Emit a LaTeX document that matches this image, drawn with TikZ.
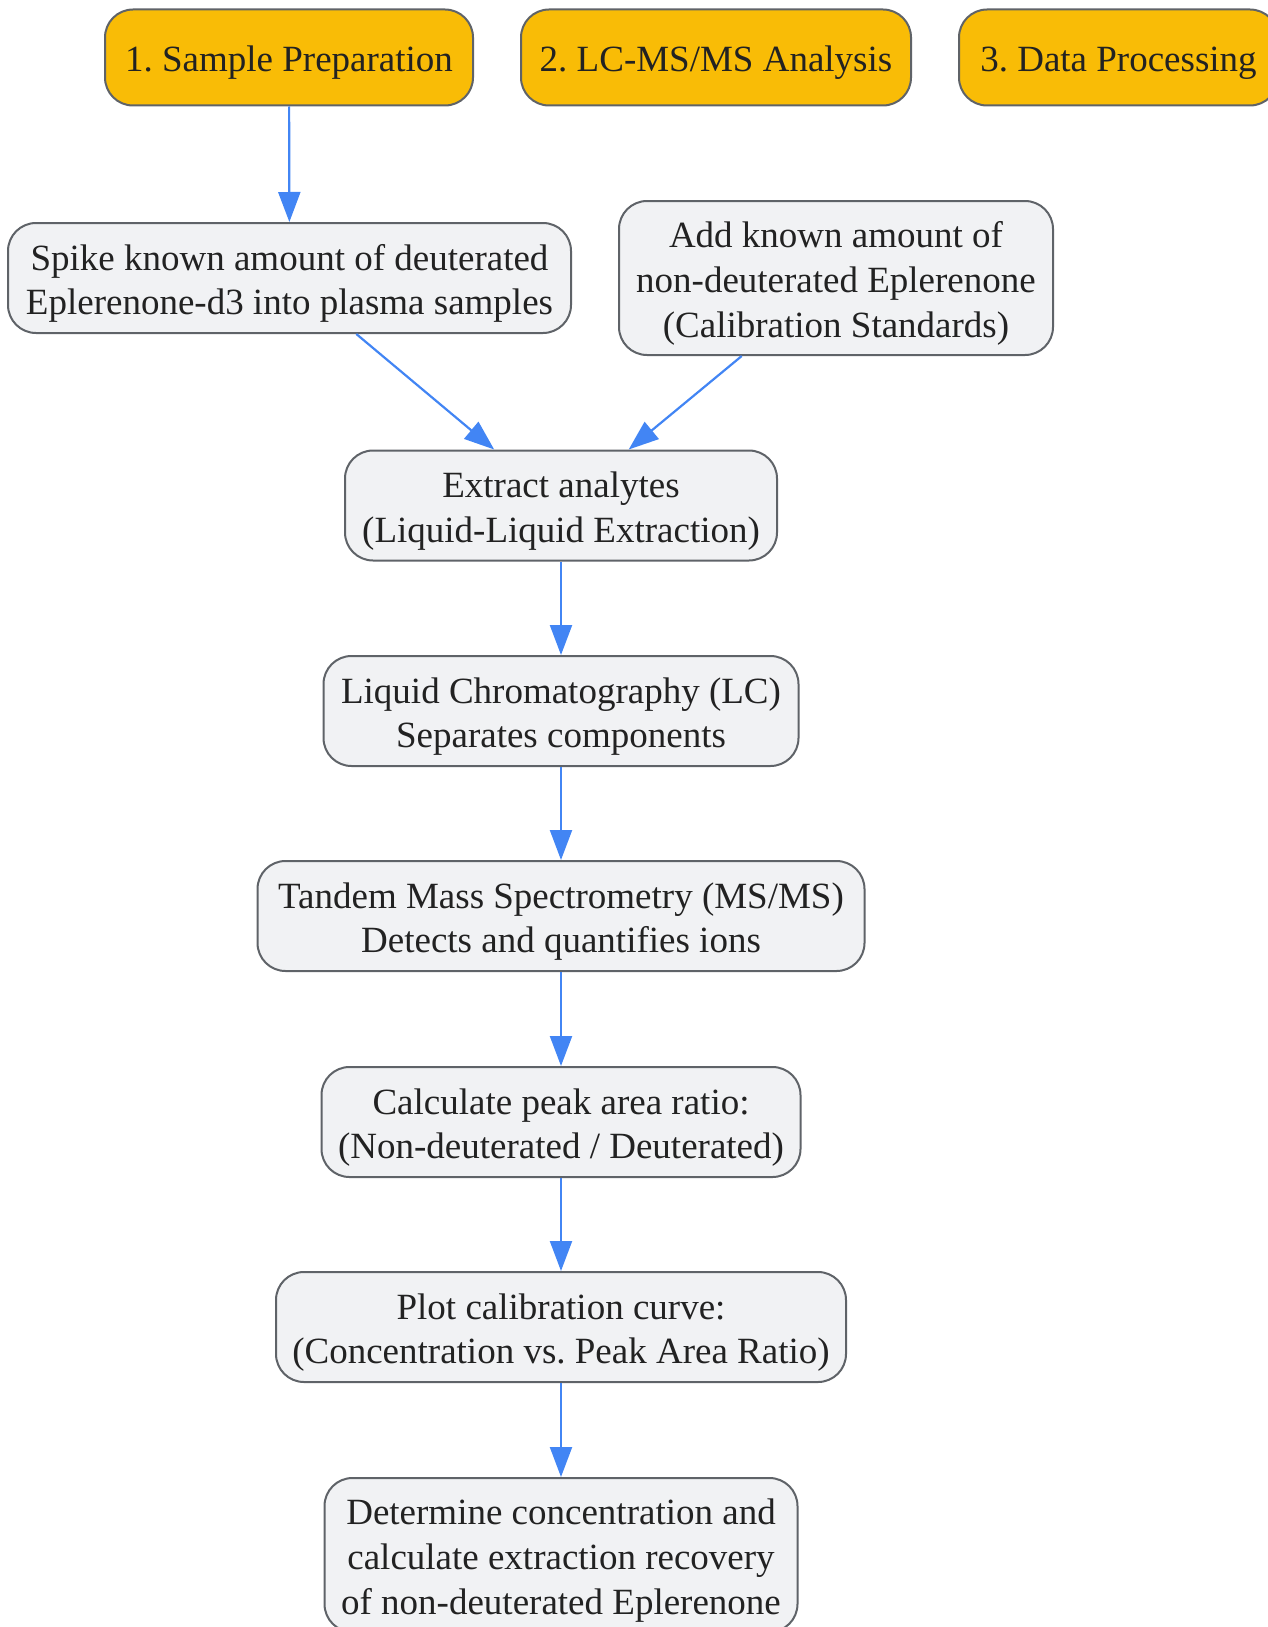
\documentclass[tikz,border=0pt]{standalone}
\usepackage{fontspec}
\setmainfont{Liberation Serif}
\usetikzlibrary{arrows.meta}
\definecolor{phasefill}{HTML}{F9BC06}
\definecolor{boxfill}{HTML}{F1F2F4}
\definecolor{boxline}{HTML}{5F6368}
\definecolor{flowblue}{HTML}{4285F4}
\definecolor{textdark}{HTML}{222222}
\newcommand{\linetop}{\rule{0pt}{19.5pt}}
\newcommand{\linebot}{\rule[-5pt]{0pt}{0pt}}
\frenchspacing
\begin{document}
\begin{tikzpicture}[x=0.5pt, y=-0.5pt,
    every node/.style={font=\fontsize{18.5}{22.3}\selectfont, text=textdark, align=center, inner sep=0pt},
    phase/.style={draw=boxline, line width=1pt, fill=phasefill, rounded corners=14pt, minimum height=48pt},
    stepbox/.style={draw=boxline, line width=1pt, fill=boxfill, rounded corners=14pt, minimum height=55pt},
    flow/.style={draw=flowblue, line width=1.1pt, -{Triangle[length=15pt, width=11pt]}}]
    \useasboundingbox (0,0) rectangle (1268,1627);
    % phases
    \node[phase, minimum width=184pt] (prep) at (289,57.5) {\linetop 1. Sample Preparation\linebot};
    \node[phase, minimum width=195pt] (lcms) at (716,57.5) {\linetop 2. LC-MS/MS Analysis\linebot};
    \node[phase, minimum width=159.5pt] (data) at (1118.5,57.5) {\linetop 3. Data Processing\linebot};
    % steps
    \node[stepbox, minimum width=281.5pt] (spike) at (289.5,278) {\linetop Spike known amount of deuterated\\Eplerenone-d3 into plasma samples\linebot};
    \node[stepbox, minimum width=217pt, minimum height=77pt] (add) at (836,278) {\linetop Add known amount of\\non-deuterated Eplerenone\\(Calibration Standards)\linebot};
    \node[stepbox, minimum width=216pt] (extract) at (561,505.5) {\linetop Extract analytes\\(Liquid-Liquid Extraction)\linebot};
    \node[stepbox, minimum width=237.5pt] (lc) at (561,711) {\linetop Liquid Chromatography (LC)\\Separates components\linebot};
    \node[stepbox, minimum width=303.5pt] (msms) at (561,916) {\linetop Tandem Mass Spectrometry (MS/MS)\\Detects and quantifies ions\linebot};
    \node[stepbox, minimum width=239.5pt] (ratio) at (561,1122) {\linetop Calculate peak area ratio:\\(Non-deuterated / Deuterated)\linebot};
    \node[stepbox, minimum width=285pt] (curve) at (561,1327) {\linetop Plot calibration curve:\\(Concentration vs. Peak Area Ratio)\linebot};
    \node[stepbox, minimum width=236.5pt, minimum height=77pt] (result) at (561,1555) {\linetop Determine concentration and\\calculate extraction recovery\\of non-deuterated Eplerenone\linebot};
    % arrows
    \draw[flow] (prep) -- (spike);
    \draw[flow] (spike) -- (extract);
    \draw[flow] (add) -- (extract);
    \draw[flow] (extract) -- (lc);
    \draw[flow] (lc) -- (msms);
    \draw[flow] (msms) -- (ratio);
    \draw[flow] (ratio) -- (curve);
    \draw[flow] (curve) -- (result);
\end{tikzpicture}
\end{document}
